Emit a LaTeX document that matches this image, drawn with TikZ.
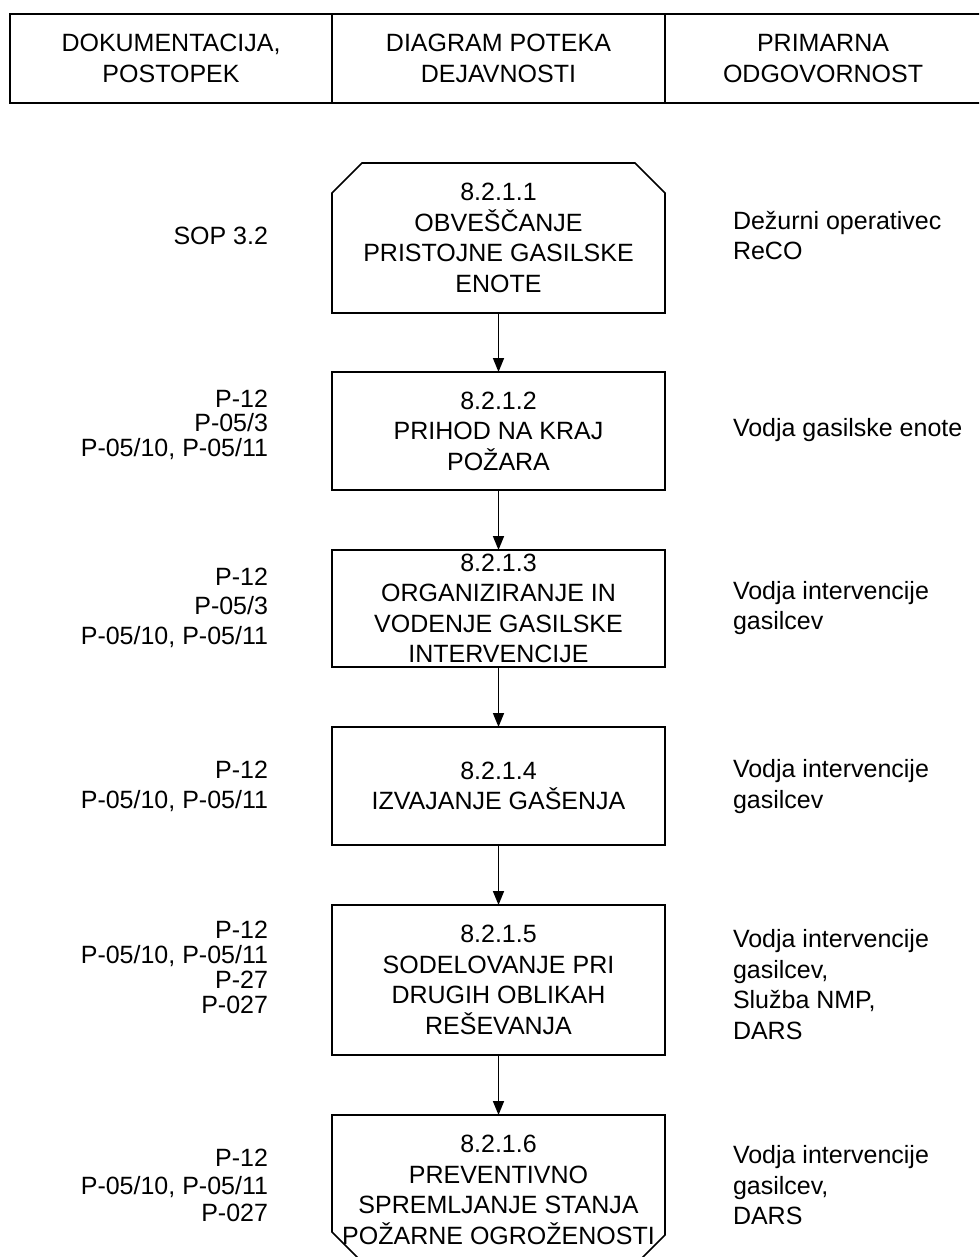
\documentclass[tikz,border=0pt]{standalone}
\usepackage{fontspec}
\setmainfont{Liberation Sans}
\usetikzlibrary{arrows.meta}
\begin{document}
\begin{tikzpicture}[x=1pt,y=-1pt,
  line width=1.6pt,
  every node/.style={inner sep=0pt, outer sep=0pt},
  txt/.style={font=\fontsize{25}{30.5}\selectfont},
  flowbox/.style={txt, draw, minimum width=333pt, align=center},
  ghostbox/.style={flowbox, draw=none},
  hdrcell/.style={txt, draw, minimum height=89pt, align=center},
  lefttxt/.style={anchor=east, align=right},
  righttxt/.style={txt, anchor=west, align=left},
  flow/.style={-{Triangle[length=14pt,width=11pt]}}]
\clip (0,0) rectangle (979,1257);
\useasboundingbox (0,0) rectangle (979,1257);

% header
\node[hdrcell, minimum width=322pt] (h1) at (171,58.5) {DOKUMENTACIJA,\\POSTOPEK};
\node[hdrcell, minimum width=333pt] (h2) at (498.5,58.5) {DIAGRAM POTEKA\\DEJAVNOSTI};
\node[hdrcell, minimum width=316pt] (h3) at (823,58.5) {PRIMARNA\\ODGOVORNOST};

% flow boxes
\node[ghostbox, minimum height=150pt] (b1) at (498.5,238) {8.2.1.1\\OBVEŠČANJE\\PRISTOJNE GASILSKE\\ENOTE};
\draw (b1.south west) -- ++(0,-120) -- ++(30,-30) -- ([xshift=-30pt]b1.north east) -- ++(30,30) -- (b1.south east) -- cycle;

\node[flowbox, minimum height=118pt] (b2) at (498.5,431) {8.2.1.2\\PRIHOD NA KRAJ\\POŽARA};
\node[flowbox, minimum height=117pt] (b3) at (498.5,608.5) {8.2.1.3\\ORGANIZIRANJE IN\\VODENJE GASILSKE\\INTERVENCIJE};
\node[flowbox, minimum height=118pt] (b4) at (498.5,786) {8.2.1.4\\IZVAJANJE GAŠENJA};
\node[flowbox, minimum height=150pt] (b5) at (498.5,980) {8.2.1.5\\SODELOVANJE PRI\\DRUGIH OBLIKAH\\REŠEVANJA};

\node[ghostbox, minimum height=150pt] (b6) at (498.5,1190) {8.2.1.6\\PREVENTIVNO\\SPREMLJANJE STANJA\\POŽARNE OGROŽENOSTI};
\draw (b6.north west) -- ++(0,117) -- ++(30,30) -- ([xshift=-30pt]b6.south east) -- ++(30,-30) -- (b6.north east) -- cycle;

% connectors
\draw[flow] (b1.south) -- (b2.north);
\draw[flow] (b2.south) -- (b3.north);
\draw[flow] (b3.south) -- (b4.north);
\draw[flow] (b4.south) -- (b5.north);
\draw[flow] (b5.south) -- (b6.north);

% left column
\node[lefttxt, font=\fontsize{25}{30}\selectfont] (l1) at (268,236) {SOP 3.2};
\node[lefttxt, font=\fontsize{25}{24.5}\selectfont] (l2) at (268,424.5) {P-12\\P-05/3\\P-05/10, P-05/11};
\node[lefttxt, font=\fontsize{25}{29.5}\selectfont] (l3) at (268,607.5) {P-12\\P-05/3\\P-05/10, P-05/11};
\node[lefttxt, font=\fontsize{25}{30}\selectfont] (l4) at (268,786) {P-12\\P-05/10, P-05/11};
\node[lefttxt, font=\fontsize{25}{25}\selectfont] (l5) at (268,967.5) {P-12\\P-05/10, P-05/11\\P-27\\P-027};
\node[lefttxt, font=\fontsize{25}{27.5}\selectfont] (l6) at (268,1185.5) {P-12\\P-05/10, P-05/11\\P-027};

% right column
\node[righttxt] (r1) at (733,235.5) {Dežurni operativec\\ReCO};
\node[righttxt] (r2) at (733,430) {Vodja gasilske enote};
\node[righttxt] (r3) at (733,608) {Vodja intervencije\\gasilcev};
\node[righttxt] (r4) at (733,786.5) {Vodja intervencije\\gasilcev};
\node[righttxt] (r5) at (733,984.5) {Vodja intervencije\\gasilcev,\\Služba NMP,\\DARS};
\node[righttxt] (r6) at (733,1185.5) {Vodja intervencije\\gasilcev,\\DARS};
\end{tikzpicture}
\end{document}
